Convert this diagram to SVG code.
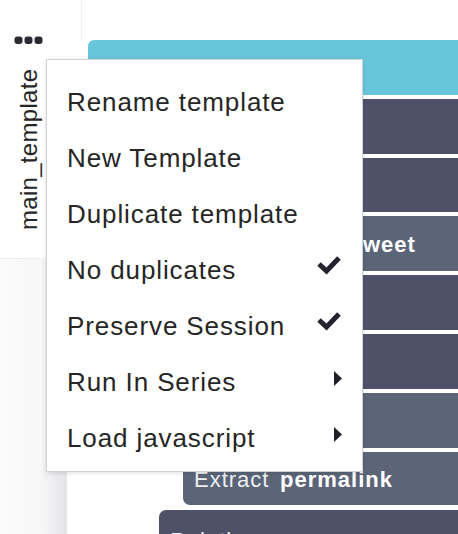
<svg xmlns="http://www.w3.org/2000/svg" width="458" height="534" viewBox="0 0 458 534">
  <defs>
    <style>
      .item { font-family: "Liberation Sans", Arial, sans-serif; font-size: 26px; fill: #262626; letter-spacing: 0.9px; }
      .bar-dark { fill: #4f5168; }
      .bar-slate { fill: #5b6577; }
      .bar-text { font-family: "Liberation Sans", Arial, sans-serif; font-size: 22px; fill: #eef0f3; letter-spacing: 1px; }
      .bold { font-weight: bold; fill: #ffffff; }
      .check { fill: none; stroke: #23232e; stroke-width: 5; stroke-linejoin: miter; stroke-linecap: butt; }
      .caret { fill: #1f1f28; }
    </style>
    <linearGradient id="leftShade" x1="0" y1="0" x2="1" y2="0">
      <stop offset="0" stop-color="#fbfbfb"/>
      <stop offset="0.6" stop-color="#f7f7f8"/>
      <stop offset="1" stop-color="#e3e4e7"/>
    </linearGradient>
    <filter id="menuShadow" x="-10%" y="-10%" width="120%" height="120%">
      <feDropShadow dx="0" dy="1" stdDeviation="2" flood-color="#000" flood-opacity="0.12"/>
    </filter>
  </defs>

  <!-- background -->
  <rect x="0" y="0" width="458" height="534" fill="#ffffff"/>
  <rect x="0" y="258" width="67" height="276" fill="url(#leftShade)"/>
  <line x1="81.5" y1="0" x2="81.5" y2="40" stroke="#f1f1f2" stroke-width="1"/>

  <!-- side panel -->
  <g id="side-panel">
    <rect x="0" y="0" width="81" height="258" fill="#ffffff"/>
    <line x1="0" y1="258.5" x2="67" y2="258.5" stroke="#eeeeef" stroke-width="1"/>
    <g id="dots" fill="#2a2a33">
      <rect x="14.5" y="36.5" width="8" height="7.5" rx="3"/>
      <rect x="24.5" y="36.5" width="8" height="7.5" rx="3"/>
      <rect x="34.5" y="36.5" width="8" height="7.5" rx="3"/>
    </g>
    <text transform="translate(37,230) rotate(-90)" font-family="'Liberation Sans', Arial, sans-serif" font-size="24" letter-spacing="0.3" fill="#262626">main_template</text>
  </g>

  <!-- bars -->
  <g id="bar-cyan"><rect x="88" y="40" width="380" height="55" rx="6" fill="#68c6da"/></g>
  <g id="bar-1"><rect class="bar-dark" x="100" y="99" width="370" height="55"/></g>
  <g id="bar-2"><rect class="bar-dark" x="100" y="158" width="370" height="54"/></g>
  <g id="bar-3">
    <rect class="bar-slate" x="100" y="216" width="370" height="55"/>
    <text class="bar-text bold" x="363" y="252" font-size="23">weet</text>
  </g>
  <g id="bar-4"><rect class="bar-dark" x="100" y="275" width="370" height="55"/></g>
  <g id="bar-5"><rect class="bar-dark" x="100" y="334" width="370" height="55"/></g>
  <g id="bar-6"><rect class="bar-slate" x="100" y="393" width="370" height="55"/></g>
  <g id="bar-extract">
    <rect class="bar-slate" x="183" y="452" width="290" height="53" rx="7"/>
    <text class="bar-text" x="194" y="487">Extract <tspan class="bold" x="280">permalink</tspan></text>
  </g>
  <g id="bar-relation">
    <rect class="bar-dark" x="159" y="510" width="310" height="40" rx="7"/>
    <text class="bar-text" x="170" y="548">Relation</text>
  </g>

  <g id="connectors"></g>

  <!-- context menu -->
  <g id="menu">
    <rect x="46.5" y="59.5" width="316" height="412" fill="#ffffff" stroke="#d2d2d4" stroke-width="1" filter="url(#menuShadow)"/>
    <g id="item-rename"><text class="item" x="67" y="111">Rename template</text></g>
    <g id="item-new"><text class="item" x="67" y="167">New Template</text></g>
    <g id="item-duplicate"><text class="item" x="67" y="223">Duplicate template</text></g>
    <g id="item-noduplicates">
      <text class="item" x="67" y="279">No duplicates</text>
      <polyline class="check" points="319,264 326.5,271 339,258"/>
    </g>
    <g id="item-preserve">
      <text class="item" x="67" y="335">Preserve Session</text>
      <polyline class="check" points="319,320 326.5,327 339,314"/>
    </g>
    <g id="item-series">
      <text class="item" x="67" y="391">Run In Series</text>
      <polygon class="caret" points="334,371 342,378.5 334,386"/>
    </g>
    <g id="item-loadjs">
      <text class="item" x="67" y="447">Load javascript</text>
      <polygon class="caret" points="334,427 342,434.5 334,442"/>
    </g>
  </g>
</svg>
